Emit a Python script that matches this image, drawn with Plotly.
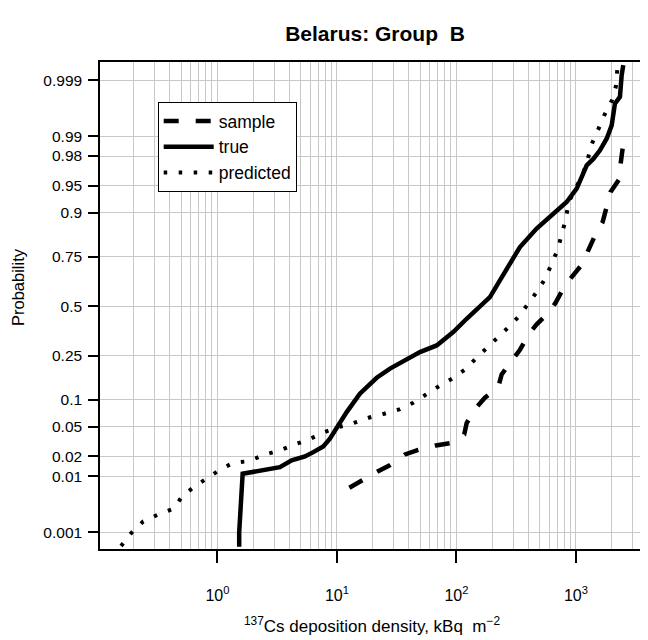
import plotly.graph_objects as go
from statistics import NormalDist

nd = NormalDist()

# ---- data ----
true_x = [1.52, 1.52, 1.625, 2.27, 3.33, 4.18, 4.90, 5.40, 6.34, 7.68, 8.73, 10.26, 12.06,
          15.56, 21.5, 27.8, 38.3, 49.5, 68.3, 94.0, 121.7, 157.3, 190.6, 231, 290, 340,
          469, 606, 836, 1014, 1231, 1397, 1588, 1807, 1991, 2119, 2334, 2412, 2489]
true_p = [0.0005, 0.001, 0.011, 0.0124, 0.0139, 0.0175, 0.0193, 0.020, 0.023, 0.0276, 0.035,
          0.0515, 0.0738, 0.116, 0.164, 0.197, 0.232, 0.265, 0.296, 0.362, 0.432, 0.495,
          0.550, 0.638, 0.735, 0.791, 0.856, 0.889, 0.923, 0.946, 0.973, 0.978, 0.9835,
          0.989, 0.9933, 0.9972, 0.9979, 0.9992, 0.99951]

sample_x = [12.7, 16.1, 21.9, 27.4, 37.1, 47.9, 67.3, 88.3, 116.2, 121.7, 147.6, 173.1,
            223.7, 238.9, 295, 340, 406, 469, 598, 681, 809, 949, 1167, 1268, 1469, 1672,
            1828, 1950, 2366, 2366, 2489, 2870]
sample_p = [0.00653, 0.00859, 0.0119, 0.0147, 0.0213, 0.0248, 0.0285, 0.0306, 0.0398,
            0.0549, 0.0838, 0.1054, 0.1344, 0.1756, 0.2294, 0.276, 0.354, 0.402, 0.468,
            0.523, 0.612, 0.664, 0.727, 0.778, 0.840, 0.875, 0.920, 0.941, 0.9614, 0.9744,
            0.9869, 0.9906]

pred_x = [0.156, 0.189, 0.239, 0.320, 0.427, 0.512, 0.648, 0.838, 1.05, 1.355, 1.845, 2.45,
          3.33, 4.37, 5.83, 7.59, 10.25, 13.7, 18.4, 24.9, 33.2, 43.5, 55.2, 71.4, 92.2,
          117.8, 144.3, 179.0, 219.5, 271.4, 333.7, 399, 472, 553, 626, 703, 760, 825, 865,
          990, 1138, 1253, 1353, 1537, 1726, 1990, 2162, 2218]
pred_p = [0.00052, 0.00095, 0.00162, 0.0022, 0.0028, 0.0048, 0.0069, 0.0095, 0.0127, 0.0161,
          0.0171, 0.0211, 0.0243, 0.0291, 0.0342, 0.0418, 0.0491, 0.0549, 0.0636, 0.0708,
          0.0791, 0.0935, 0.114, 0.137, 0.161, 0.193, 0.236, 0.282, 0.332, 0.386, 0.446,
          0.512, 0.579, 0.647, 0.715, 0.780, 0.837, 0.8845, 0.922, 0.946, 0.964, 0.9775,
          0.9866, 0.9922, 0.9955, 0.9975, 0.9987, 0.9994]

prob_ticks = [0.001, 0.01, 0.02, 0.05, 0.1, 0.25, 0.5, 0.75, 0.9, 0.95, 0.98, 0.99, 0.999]
prob_labels = ["0.001", "0.01", "0.02", "0.05", "0.1", "0.25", "0.5", "0.75", "0.9",
               "0.95", "0.98", "0.99", "0.999"]
x_ticks = [1, 10, 100, 1000]
x_tick_labels = ["10<sup>0</sup>", "10<sup>1</sup>", "10<sup>2</sup>", "10<sup>3</sup>"]
x_minor = [m * 10 ** k for k in range(-1, 4) for m in range(2, 10)] + [10000]


def probit(ps):
    return [nd.inv_cdf(p) for p in ps]


FONT = "Liberation Sans, Arial, Helvetica, sans-serif"
GRID = "#c8c8c8"

# page body has an 8px margin: figure is 640x632, drawn at (8, 8)
W, H = 640, 632
L, R, T, B = 92, 0, 54, 91
PW, PH = W - L - R, H - T - B

fig = go.Figure()
fig.add_trace(go.Scatter(x=sample_x, y=probit(sample_p), mode="lines", name="sample",
                         line=dict(color="black", width=4.5, dash="15px,17px")))
fig.add_trace(go.Scatter(x=true_x, y=probit(true_p), mode="lines", name="true",
                         line=dict(color="black", width=4.5)))
fig.add_trace(go.Scatter(x=pred_x, y=probit(pred_p), mode="lines", name="predicted",
                         line=dict(color="black", width=4, dash="3.5px,11.5px")))

fig.update_layout(
    width=W, height=H,
    margin=dict(l=L, r=R, t=T, b=B),
    paper_bgcolor="white", plot_bgcolor="white",
    font=dict(family=FONT, size=15, color="black"),
    title=dict(text="<b>Belarus: Group  B</b>", x=367 / W, xref="container", xanchor="center",
               y=1 - 26 / H, yref="container", yanchor="middle",
               font=dict(family=FONT, size=21, color="black")),
    showlegend=True,
    legend=dict(x=(149.7 - L) / PW, y=(T + PH - 94) / PH, xanchor="left", yanchor="top",
                bgcolor="white", bordercolor="black", borderwidth=1,
                font=dict(family=FONT, size=17.5), itemwidth=50,
                tracegroupgap=0),
    xaxis=dict(type="log", range=[-0.983, 3.603], tickvals=x_ticks, ticktext=x_tick_labels,
               ticks="outside", ticklen=12, tickwidth=1.5, tickcolor="black",
               showline=True, linecolor="black", linewidth=1.5, mirror=True,
               showgrid=True, gridcolor=GRID, gridwidth=1, zeroline=False,
               minor=dict(tickvals=x_minor, showgrid=True, gridcolor=GRID, gridwidth=1,
                          ticks=""),
               ticklabelstandoff=19,
               tickfont=dict(family=FONT, size=16)),
    yaxis=dict(range=[-3.32, 3.34], tickvals=probit(prob_ticks), ticktext=prob_labels,
               ticks="outside", ticklen=10, tickwidth=1.5, tickcolor="black",
               showline=True, linecolor="black", linewidth=1.5, mirror=False,
               showgrid=True, gridcolor=GRID, gridwidth=1, zeroline=False,
               ticklabelstandoff=3,
               tickfont=dict(family=FONT, size=15.5)),
    annotations=[
        dict(text="<sup>137</sup>Cs deposition density, kBq  m<sup>\u22122</sup>",
             xref="paper", yref="paper", x=(372 - 100) / PW, y=-(625 - 549) / PH,
             xanchor="center", yanchor="middle", showarrow=False,
             font=dict(family=FONT, size=17)),
        dict(text="Probability", xref="paper", yref="paper",
             x=-(100 - 18) / PW, y=(549 - 287) / PH, textangle=-90,
             xanchor="center", yanchor="middle", showarrow=False,
             font=dict(family=FONT, size=16.5)),
    ],
)

fig.write_html("out.html")
